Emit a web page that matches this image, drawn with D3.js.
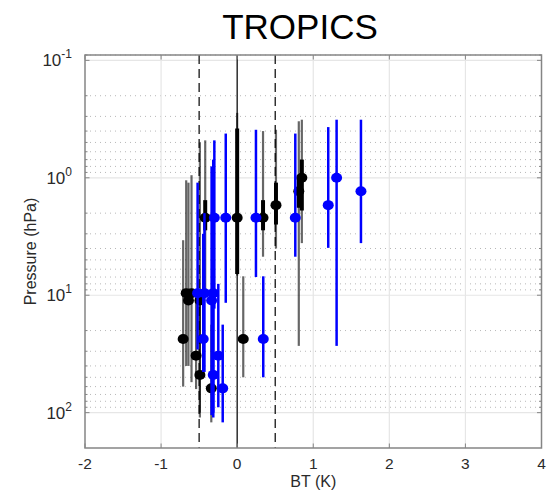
<!DOCTYPE html>
<html>
<head>
<meta charset="utf-8">
<script src="https://cdn.jsdelivr.net/npm/d3@7"></script>
<style>
  body { margin: 0; background: #fff; }
  text { font-family: "Liberation Sans", Arial, sans-serif; }
</style>
</head>
<body>
<script>
// black series: x (K), pressure (hPa), thin bar range, thick bar range (0 = none)
var blackX   = [0.85, 0.81, 0.51, -0.42, 0.00, 0.34, -0.67, -0.60, -0.64, -0.49, -0.71, 0.08, -0.54, -0.49, -0.34];
var blackP   = [1.0, 1.3, 1.71, 2.19, 2.19, 2.19, 9.6, 9.6, 11.1, 11.1, 23.6, 23.6, 32.7, 47.7, 62.1];
var blackLo  = [0.32, 0.33, 0.39, 0.48, 0.28, 0.40, 1.05, 0.95, 1.1, 0.5, 3.4, 6.9, 9, 12, 17.8];
var blackHi  = [3.6, 27, 4.0, 9, 6.8, 4.7, 40, 55, 40, 110, 60, 50, 63, 100, 121];
var blackQLo = [0.7, 0.95, 1.1, 1.55, 0.38, 1.55, 0, 0, 0, 0, 0, 0, 0, 0, 0];
var blackQHi = [1.9, 1.8, 2.5, 2.8, 6.6, 2.8, 0, 0, 0, 0, 0, 0, 0, 0, 0];

// blue series: x (K), pressure (hPa), bar range
var blueX  = [1.307, 1.627, 1.197, -0.30, -0.15, 0.247, 0.764, -0.52, -0.43, -0.314, -0.336, -0.446, 0.343, -0.248, -0.314, -0.19];
var blueP  = [1.0, 1.3, 1.71, 2.19, 2.19, 2.19, 2.19, 9.6, 9.6, 9.6, 11.1, 23.6, 23.6, 32.7, 47.7, 62.1];
var blueLo = [0.32, 0.32, 0.37, 0.48, 0.42, 0.39, 0.42, 1.1, 2.0, 0.7, 0.8, 3, 6.9, 8, 10, 17.8];
var blueHi = [27, 3.6, 3.95, 13, 11.6, 7.0, 4.7, 29, 45, 100, 105, 45, 50, 90, 110, 121];

var xTicks = [-2, -1, 0, 1, 2, 3, 4];
var yTicks = [0.1, 1, 10, 100];
var refLines = [-0.5, 0, 0.5];

var W = 558, H = 492;
var margin = {top: 55, right: 16.5, bottom: 44, left: 85};
var x = d3.scaleLinear().domain([-2, 4]).range([margin.left, W - margin.right]);
var y = d3.scaleLog().domain([0.09, 200]).range([margin.top, H - margin.bottom]);

var svg = d3.select("body").append("svg")
    .attr("width", W)
    .attr("height", H);

// minor grid (dotted) at 2..9 of each decade
var minor = [];
[0.1, 1, 10, 100].forEach(function(d) {
  for (var k = 2; k < 10; k++) {
    if (d * k < 200) minor.push(d * k);
  }
});
minor.push(0.09);
svg.append("g").selectAll("line").data(minor).enter().append("line")
    .attr("x1", x(-2)).attr("x2", x(4))
    .attr("y1", function(d) { return y(d); })
    .attr("y2", function(d) { return y(d); })
    .attr("stroke", "#b8b8b8")
    .attr("stroke-width", 1)
    .attr("stroke-dasharray", "1,4");

// major grid
svg.append("g").selectAll("line").data(yTicks).enter().append("line")
    .attr("x1", x(-2)).attr("x2", x(4))
    .attr("y1", function(d) { return y(d); })
    .attr("y2", function(d) { return y(d); })
    .attr("stroke", "#e6e6e6")
    .attr("stroke-width", 1.2);
svg.append("g").selectAll("line").data(xTicks.slice(1, -1)).enter().append("line")
    .attr("y1", y(0.09)).attr("y2", y(200))
    .attr("x1", function(d) { return x(d); })
    .attr("x2", function(d) { return x(d); })
    .attr("stroke", "#e6e6e6")
    .attr("stroke-width", 1.2);

// reference lines
svg.append("g").selectAll("line").data(refLines).enter().append("line")
    .attr("y1", y(0.09)).attr("y2", y(200))
    .attr("x1", function(d) { return x(d); })
    .attr("x2", function(d) { return x(d); })
    .attr("stroke", "#000")
    .attr("stroke-width", 1.2)
    .attr("stroke-dasharray", function(d) { return d == 0 ? null : "9,5"; });

// black: thin grey bar, thick black middle part, dot
var gb = svg.append("g");
var bi = d3.range(blackX.length);
gb.selectAll(".thin").data(bi).enter().append("line")
    .attr("x1", function(i) { return x(blackX[i]); })
    .attr("x2", function(i) { return x(blackX[i]); })
    .attr("y1", function(i) { return y(blackLo[i]); })
    .attr("y2", function(i) { return y(blackHi[i]); })
    .attr("stroke", "#000")
    .attr("stroke-opacity", 0.6)
    .attr("stroke-width", 2.2);
gb.selectAll(".thick").data(bi.filter(function(i) { return blackQLo[i] > 0; })).enter().append("line")
    .attr("x1", function(i) { return x(blackX[i]); })
    .attr("x2", function(i) { return x(blackX[i]); })
    .attr("y1", function(i) { return y(blackQLo[i]); })
    .attr("y2", function(i) { return y(blackQHi[i]); })
    .attr("stroke", "#000")
    .attr("stroke-width", 4);

// blue bars
var gl = svg.append("g");
var li = d3.range(blueX.length);
gl.selectAll("line").data(li).enter().append("line")
    .attr("x1", function(i) { return x(blueX[i]); })
    .attr("x2", function(i) { return x(blueX[i]); })
    .attr("y1", function(i) { return y(blueLo[i]); })
    .attr("y2", function(i) { return y(blueHi[i]); })
    .attr("stroke", "#0000ff")
    .attr("stroke-width", 2.5);

gb.selectAll("ellipse").data(bi).enter().append("ellipse")
    .attr("cx", function(i) { return x(blackX[i]); })
    .attr("cy", function(i) { return y(blackP[i]); })
    .attr("rx", 5.5).attr("ry", 5)
    .attr("fill", "#000");
gl.selectAll("ellipse").data(li).enter().append("ellipse")
    .attr("cx", function(i) { return x(blueX[i]); })
    .attr("cy", function(i) { return y(blueP[i]); })
    .attr("rx", 5.5).attr("ry", 5)
    .attr("fill", "#0000ff");

// box
var axisColor = "#858585";
svg.append("rect")
    .attr("x", x(-2)).attr("y", y(0.09))
    .attr("width", x(4) - x(-2))
    .attr("height", y(200) - y(0.09))
    .attr("fill", "none")
    .attr("stroke", axisColor)
    .attr("stroke-width", 1.5);

// ticks (inward, mirrored)
var ticks = svg.append("g").attr("stroke", axisColor).attr("stroke-width", 1);
xTicks.forEach(function(d) {
  ticks.append("line").attr("x1", x(d)).attr("x2", x(d)).attr("y1", y(200)).attr("y2", y(200) - 4.5);
  ticks.append("line").attr("x1", x(d)).attr("x2", x(d)).attr("y1", y(0.09)).attr("y2", y(0.09) + 4.5);
});
yTicks.forEach(function(d) {
  ticks.append("line").attr("x1", x(-2)).attr("x2", x(-2) + 4.5).attr("y1", y(d)).attr("y2", y(d));
  ticks.append("line").attr("x1", x(4)).attr("x2", x(4) - 4.5).attr("y1", y(d)).attr("y2", y(d));
});
minor.forEach(function(d) {
  ticks.append("line").attr("x1", x(-2)).attr("x2", x(-2) + 2.5).attr("y1", y(d)).attr("y2", y(d));
  ticks.append("line").attr("x1", x(4)).attr("x2", x(4) - 2.5).attr("y1", y(d)).attr("y2", y(d));
});

// tick labels
svg.append("g").selectAll("text").data(xTicks).enter().append("text")
    .attr("x", function(d) { return x(d); })
    .attr("y", 469)
    .attr("text-anchor", "middle")
    .attr("font-size", 15.5)
    .attr("fill", "#2a2a2a")
    .text(function(d) { return d; });

var yl = svg.append("g").selectAll("text").data(yTicks).enter().append("text")
    .attr("x", x(-2) - 13)
    .attr("y", function(d) { return y(d) + 6; })
    .attr("text-anchor", "end")
    .attr("font-size", 17)
    .attr("fill", "#2a2a2a");
yl.append("tspan").text("10");
yl.append("tspan")
    .attr("dy", -8)
    .attr("font-size", 12)
    .text(function(d) { return Math.round(Math.log10(d)); });

// axis titles
svg.append("text")
    .attr("x", (x(-2) + x(4)) / 2)
    .attr("y", 487)
    .attr("text-anchor", "middle")
    .attr("font-size", 16)
    .attr("fill", "#2a2a2a")
    .text("BT (K)");

svg.append("text")
    .attr("transform", "translate(36," + ((y(0.09) + y(200)) / 2) + ") rotate(-90)")
    .attr("text-anchor", "middle")
    .attr("font-size", 16)
    .attr("fill", "#2a2a2a")
    .text("Pressure (hPa)");

svg.append("text")
    .attr("x", 300)
    .attr("y", 39)
    .attr("text-anchor", "middle")
    .attr("font-size", 35)
    .attr("fill", "#000")
    .text("TROPICS");
</script>
</body>
</html>
